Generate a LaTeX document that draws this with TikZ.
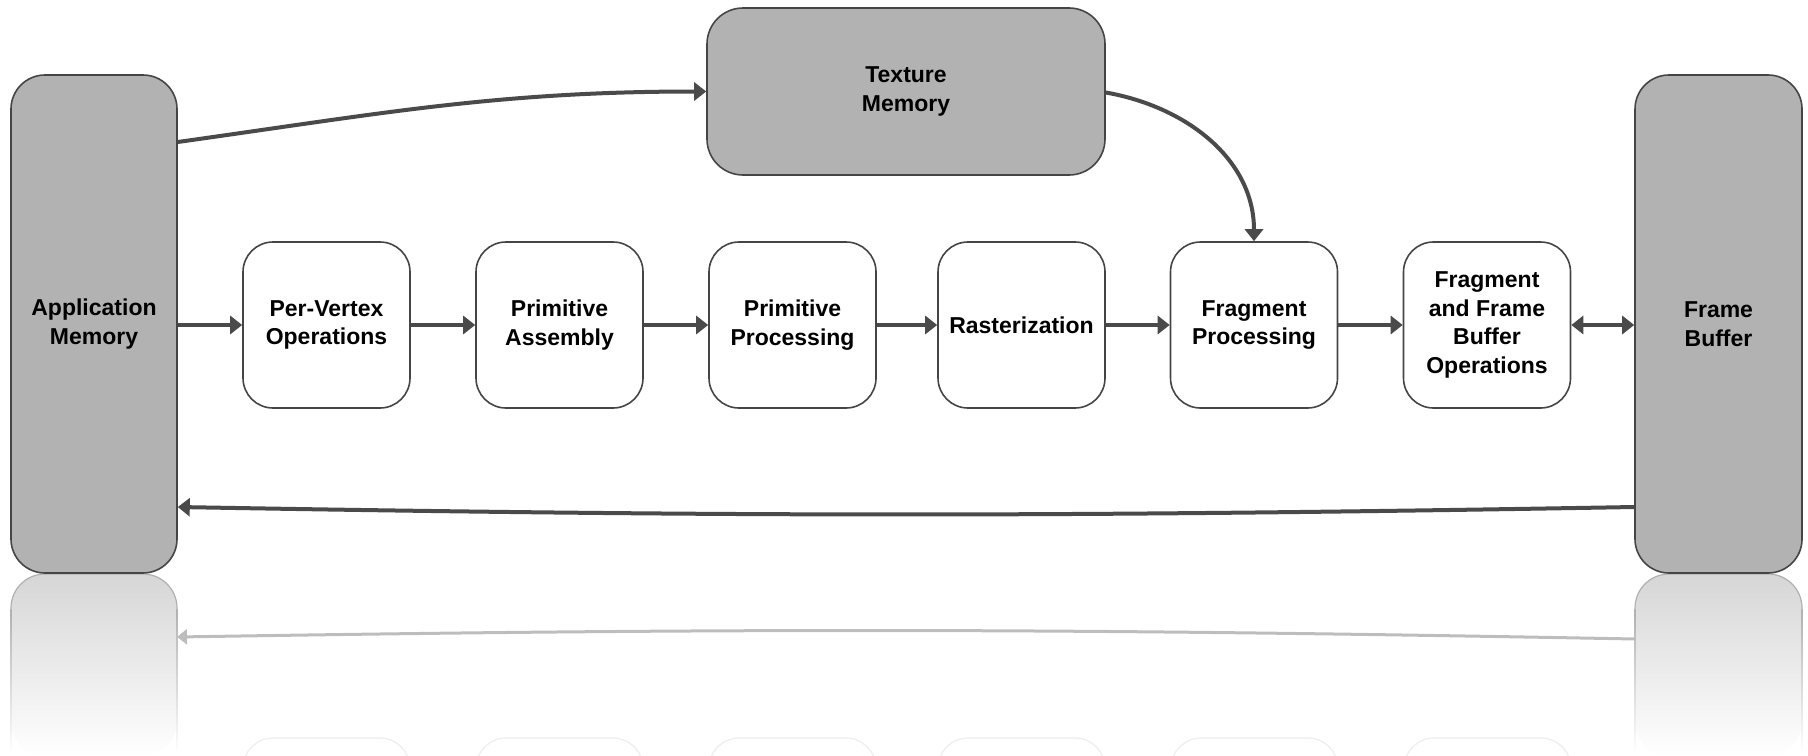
\documentclass[tikz,border=0pt]{standalone}
\usepackage{fontspec}
\setmainfont{Liberation Sans}
\usetikzlibrary{arrows.meta}
\definecolor{boxgray}{HTML}{B2B2B2}
\definecolor{edgegray}{HTML}{454545}
\definecolor{arrgray}{HTML}{4A4A4A}
\definecolor{reflgray}{HTML}{D6D6D6}
\definecolor{reflarrow}{HTML}{BDBDBD}
\definecolor{refledge}{HTML}{B0B0B0}
\tikzset{
  lbl/.style={font=\bfseries\fontsize{11.5}{14.25}\selectfont, align=center, inner sep=0pt},
  membox/.style={lbl, draw=edgegray, line width=0.8pt, fill=boxgray, rounded corners=17pt},
  stage/.style={lbl, draw=edgegray, line width=0.8pt, fill=white, rounded corners=15pt,
    minimum width=83.5pt, minimum height=83pt},
  arr/.style={draw=arrgray, line width=2pt, -{Triangle[length=6pt,width=9pt]}},
  darr/.style={draw=arrgray, line width=2pt, {Triangle[length=6pt,width=9pt]}-{Triangle[length=6pt,width=9pt]}},
  reflarr/.style={draw=reflarrow, line width=1.5pt, -{Triangle[length=5pt,width=7.5pt]}},
}
\begin{document}
\begin{tikzpicture}[x=0.5pt,y=-0.5pt]
\useasboundingbox (0,0) rectangle (1808,755);

% ---------- reflection (drawn directly) ----------
\shade[top color=reflgray, bottom color=white, rounded corners=17pt]
  (11,756) -- (11,574) -- (177,574) -- (177,756) -- cycle;
\shade[top color=reflgray, bottom color=white, rounded corners=17pt]
  (1635,756) -- (1635,574) -- (1802,574) -- (1802,756) -- cycle;
\draw[refledge, line width=0.6pt, rounded corners=17pt] (11,610) -- (11,574) -- (177,574) -- (177,610);
\draw[refledge, line width=0.6pt, rounded corners=17pt] (1635,610) -- (1635,574) -- (1802,574) -- (1802,610);
\shade[top color=refledge, bottom color=white] (10.4,609) rectangle (11.6,755);
\shade[top color=refledge, bottom color=white] (176.4,609) rectangle (177.6,755);
\shade[top color=refledge, bottom color=white] (1634.4,609) rectangle (1635.6,755);
\shade[top color=refledge, bottom color=white] (1801.4,609) rectangle (1802.6,755);
\coordinate (rfb) at (1635,639);
\coordinate (rapp) at (177,637);
\draw[reflarr] (rfb) to[bend right=1] (rapp);
\foreach \xa in {243,476,709,938,1171,1404}{
  \draw[black!7, line width=0.6pt, rounded corners=15pt]
    (\xa,756) -- (\xa,738) -- ({\xa+167},738) -- ({\xa+167},756);
}

% ---------- memories ----------
\node[membox, minimum width=83pt, minimum height=249pt] (app) at (94,324) {Application\\Memory};
\node[membox, minimum width=83.5pt, minimum height=249pt] (fb) at (1718.5,324) {Frame\\Buffer};
\node[membox, minimum width=199pt, minimum height=83.5pt, rounded corners=18pt] (tex) at (906,91.5) {Texture\\Memory};

% ---------- pipeline stages ----------
\node[stage] (b1) at (326.5,325) {Per-Vertex\\Operations};
\node[stage] (b2) at (559.5,325) {Primitive\\Assembly};
\node[stage] (b3) at (792.5,325) {Primitive\\Processing};
\node[stage] (b4) at (1021.5,325) {Rasterization};
\node[stage] (b5) at (1254,325) {Fragment\\Processing};
\node[stage] (b6) at (1487,325) {Fragment\\and Frame\\Buffer\\Operations};

% ---------- connectors ----------
\draw[arr] (app.east |- b1.west) -- (b1.west);
\draw[arr] (b1) -- (b2);
\draw[arr] (b2) -- (b3);
\draw[arr] (b3) -- (b4);
\draw[arr] (b4) -- (b5);
\draw[arr] (b5) -- (b6);
\draw[darr] (b6.east) -- (fb.west |- b6.east);
\draw[arr] ([yshift=91pt]app.east) to[out=8,in=180] (tex.west);
\draw[arr] ([yshift=-0.5pt]tex.east) to[out=-10,in=90] (b5.north);
\draw[arr] ([yshift=-91.5pt]fb.west) to[bend left=1] ([yshift=-91.5pt]app.east);
\end{tikzpicture}
\end{document}
